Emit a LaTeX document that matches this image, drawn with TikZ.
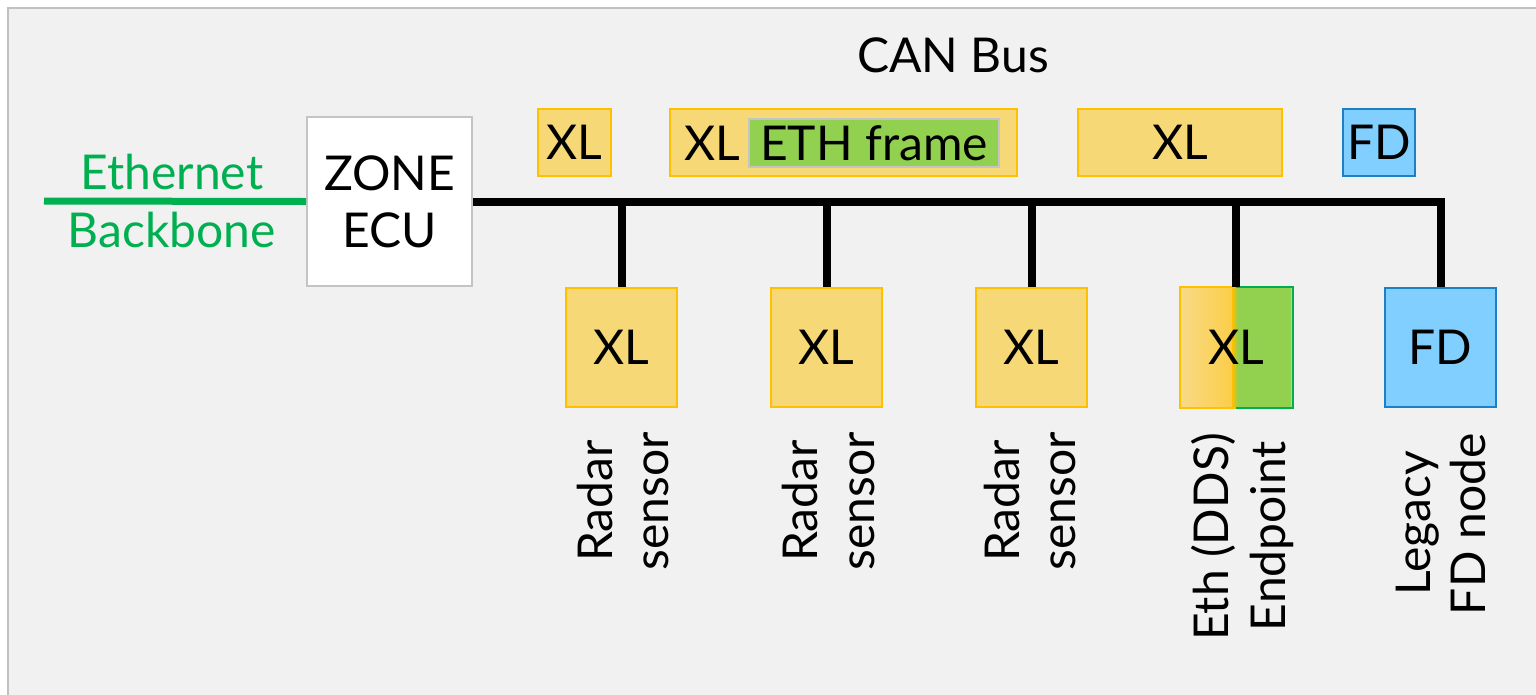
\documentclass[tikz,border=0pt]{standalone}
\usepackage{fontspec}
\setmainfont{Lato}

\definecolor{pagebg}{HTML}{F1F1F1}
\definecolor{frameline}{HTML}{C0C0C0}
\definecolor{xlfill}{HTML}{F7D877}
\definecolor{xlline}{HTML}{FFC000}
\definecolor{xllight}{HTML}{F8DA86}
\definecolor{ethfill}{HTML}{92D050}
\definecolor{ethline}{HTML}{00B050}
\definecolor{fdfill}{HTML}{80CFFF}
\definecolor{fdline}{HTML}{1B80C6}
\definecolor{greyline}{HTML}{C4C4C4}

\begin{document}
\begin{tikzpicture}[x=1pt,y=-1pt,
  txt/.style={font=\fontsize{48}{57}\selectfont, text=black},
  box/.style={txt, line width=2pt, inner sep=0pt, text height=34pt, text depth=0pt},
  xlbox/.style={box, draw=xlline, fill=xlfill},
  fdbox/.style={box, draw=fdline, fill=fdfill},
  topbox/.style={minimum height=67pt},
  lowbox/.style={minimum width=111pt, minimum height=119pt},
  vlabel/.style={txt, rotate=90, anchor=base, inner sep=0pt},
  bus/.style={line width=8pt, black},
  backbone/.style={line width=7pt, ethline}]

  \useasboundingbox (0,0) rectangle (1536,694);
  % outer panel
  \draw[fill=pagebg, draw=frameline, line width=2pt] (8,8) rectangle (1560,720);

  % title
  \node[txt, anchor=base] (title) at (953,72) {CAN Bus};

  % zone controller and the Ethernet backbone
  \node[box, draw=greyline, fill=white, minimum width=165pt, minimum height=169pt,
        align=center, text height=, text depth=] (zone) at (389.5,201.5) {ZONE\\ECU};
  \coordinate (bbstart) at (44,201);
  \draw[backbone] (bbstart) -- (zone.west);
  \node[txt, text=ethline, align=center, font=\fontsize{48}{58}\selectfont] (bblabel) at (172,201) {Ethernet\\Backbone};

  % frames travelling on the bus
  \node[xlbox, topbox, minimum width=73pt] (t1) at (574.5,142.5) {XL};
  \node[xlbox, topbox, minimum width=347pt] (t2) at (843.5,142.5) {};
  \node[txt, inner sep=0pt, text height=34pt, text depth=0pt] (t2xl) at (712.5,143.5) {XL};
  \node[box, draw=greyline, fill=ethfill, minimum width=250pt, minimum height=48pt] (t2eth) at (874,143) {ETH frame};
  \node[xlbox, topbox, minimum width=204pt] (t3) at (1180,142.5) {XL};
  \node[fdbox, topbox, minimum width=72pt] (t4) at (1379,142.5) {FD};

  % bus participants
  \node[xlbox, lowbox] (n1) at (621.5,347.5) {XL};
  \node[xlbox, lowbox] (n2) at (826.5,347.5) {XL};
  \node[xlbox, lowbox] (n3) at (1031.5,347.5) {XL};
  \node[box, lowbox,
        path picture={
          \shade[left color=xllight, right color=xlline]
            (path picture bounding box.north west) rectangle ([xshift=-4pt]path picture bounding box.south);
          \shade[left color=xlline, right color=ethfill]
            ([xshift=-4pt]path picture bounding box.north) rectangle ([xshift=2pt]path picture bounding box.south);
          \fill[ethfill]
            ([xshift=2pt]path picture bounding box.north) rectangle (path picture bounding box.south east);
        }] (n4) at (1236,347.5) {XL};
  \draw[xlline, line width=2pt] (n4.north) -- (n4.north west) -- (n4.south west) -- (n4.south);
  \draw[ethline, line width=2pt] (n4.north) -- (n4.north east) -- (n4.south east) -- (n4.south);
  \node[fdbox, lowbox] (n5) at (1440.5,347.5) {FD};

  % the CAN bus and its stubs
  \draw[bus] (zone.east) -- (zone.east -| n5.north) -- (n5.north);
  \foreach \n in {n1,n2,n3,n4}
    \draw[bus] (zone.east -| \n.north) -- (\n.north);

  % device names
  \node[vlabel] (l1a) at (612,501) {Radar};
  \node[vlabel] (l1b) at (668,501) {sensor};
  \node[vlabel] (l2a) at (817,501) {Radar};
  \node[vlabel] (l2b) at (874,501) {sensor};
  \node[vlabel] (l3a) at (1019,501) {Radar};
  \node[vlabel] (l3b) at (1075,501) {sensor};
  \node[vlabel] (l4a) at (1228,537) {Eth (DDS)};
  \node[vlabel] (l4b) at (1285,536) {Endpoint};
  \node[vlabel] (l5a) at (1430,523) {Legacy};
  \node[vlabel] (l5b) at (1485,524) {FD node};
\end{tikzpicture}
\end{document}
